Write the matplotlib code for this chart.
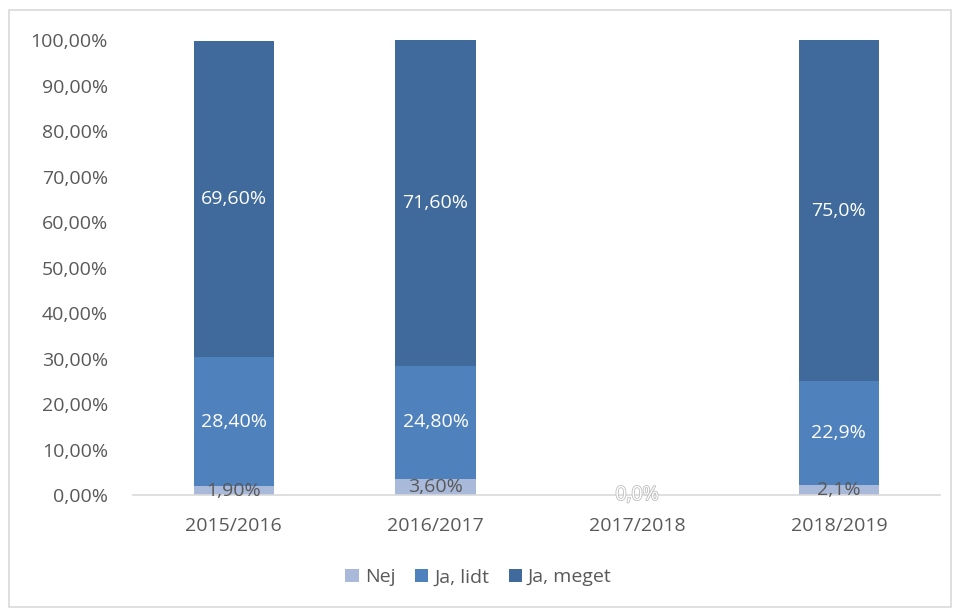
import numpy as np
import matplotlib.pyplot as plt
import matplotlib.patheffects as pe
from matplotlib.patches import Rectangle
from matplotlib.ticker import FuncFormatter

plt.rcParams['font.family'] = ['Open Sans', 'DejaVu Sans']

# Data
years = ['2015/2016', '2016/2017', '2017/2018', '2018/2019']
nej = [0.019, 0.036, 0.0, 0.021]
ja_lidt = [0.284, 0.248, 0.0, 0.229]
ja_meget = [0.696, 0.716, 0.0, 0.750]
nej_lbl = ['1,90%', '3,60%', '0,0%', '2,1%']
lidt_lbl = ['28,40%', '24,80%', '', '22,9%']
meget_lbl = ['69,60%', '71,60%', '', '75,0%']

c_nej = '#A9B9DA'
c_lidt = '#4F81BD'
c_meget = '#3F6A9B'
txt = '#595959'
fs = 14

fig = plt.figure(figsize=(9.57, 6.10), dpi=100)
ax = fig.add_axes([0.139, 0.1885, 0.843, 0.7455])

x = np.arange(len(years))
w = 0.4
ax.bar(x, nej, w, color=c_nej, label='Nej')
bottom2 = np.array(nej)
ax.bar(x, ja_lidt, w, bottom=bottom2, color=c_lidt, label='Ja, lidt')
bottom3 = bottom2 + np.array(ja_lidt)
ax.bar(x, ja_meget, w, bottom=bottom3, color=c_meget, label='Ja, meget')

# labels
for i in range(len(years)):
    if nej[i] > 0:
        ax.text(x[i], nej[i] / 2, nej_lbl[i], ha='center', va='center',
                color=txt, fontsize=fs)
    else:
        ax.text(x[i], 0, nej_lbl[i], ha='center', va='center',
                color='white', fontsize=fs,
                path_effects=[pe.withStroke(linewidth=1.2, foreground='#BFBFBF')])
    if lidt_lbl[i]:
        ax.text(x[i], bottom2[i] + ja_lidt[i] / 2, lidt_lbl[i], ha='center',
                va='center', color='white', fontsize=fs)
    if meget_lbl[i]:
        ax.text(x[i], bottom3[i] + ja_meget[i] / 2, meget_lbl[i], ha='center',
                va='center', color='white', fontsize=fs)

ax.set_xlim(-0.5, 3.5)
ax.set_ylim(0, 1)
ax.set_yticks(np.arange(0, 1.01, 0.1))
ax.yaxis.set_major_formatter(FuncFormatter(lambda v, p: f'{v*100:.2f}%'.replace('.', ',')))
ax.set_xticks(x)
ax.set_xticklabels(years)
ax.tick_params(axis='both', length=0, labelsize=fs, colors=txt)
ax.tick_params(axis='x', pad=16)
ax.tick_params(axis='y', pad=18)
for s in ['top', 'right', 'left']:
    ax.spines[s].set_visible(False)
ax.spines['bottom'].set_color('#D9D9D9')
ax.spines['bottom'].set_linewidth(1.2)

leg = fig.legend(loc='lower center', bbox_to_anchor=(0.5, 0.01), ncol=3,
                 frameon=False, fontsize=fs, handlelength=0.7, handleheight=0.7,
                 handletextpad=0.3, columnspacing=1.0)
for t in leg.get_texts():
    t.set_color(txt)

fig.patches.append(Rectangle((0.009, 0.005), 0.985, 0.978, transform=fig.transFigure,
                             fill=False, edgecolor='#D9D9D9', linewidth=1.2))

fig.savefig('out.png', dpi=100)
